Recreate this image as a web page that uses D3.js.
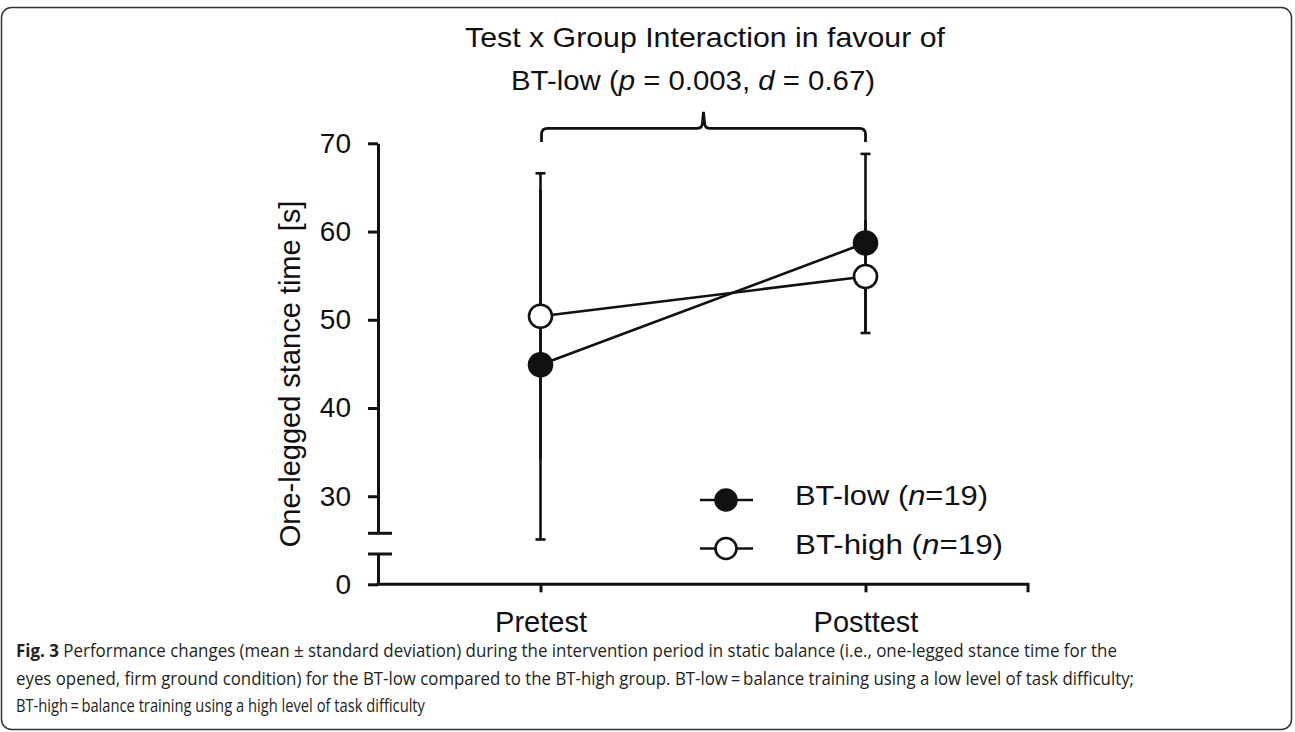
<!DOCTYPE html>
<html>
<head>
<meta charset="utf-8">
<script src="https://cdn.jsdelivr.net/npm/d3@7"></script>
<style>
  body { margin: 0; background: #fff; }
  svg { display: block; }
</style>
</head>
<body>
<svg id="chart" width="1295" height="732"></svg>
<script>

// data
const phases = ['Pretest', 'Posttest']
const groups = ['BT-low', 'BT-high']
const lowMean = [44.9, 58.7]
const lowSD = [19.8, 10.1]
const highMean = [50.4, 54.9]
const highSD = [16.2, 6.4]
// which side of the mean gets the cap (+1 up, -1 down)
const lowCap = [-1, 1]
const highCap = [1, -1]
const yTicks = [30, 40, 50, 60, 70]

const captionLines = [
    'Performance changes (mean \u00b1 standard deviation) during the intervention period in static balance (i.e., one-legged stance time for the',
    'eyes opened, firm ground condition) for the BT-low compared to the BT-high group. BT-low\u2009=\u2009balance training using a low level of task difficulty;',
    'BT-high\u2009=\u2009balance training using a high level of task difficulty'
]

const svg = d3.select('#chart')
const ink = '#111'
const font = '"Liberation Sans", Arial, sans-serif'

// frame
svg.append('rect')
    .attr('x', 1.5).attr('y', 7.5)
    .attr('width', 1290).attr('height', 722)
    .attr('rx', 10)
    .attr('fill', 'none')
    .attr('stroke', '#333')
    .attr('stroke-width', 1.5)

// scales
const x = d3.scalePoint().domain(phases).range([378, 1028]).padding(0.5)
const y = d3.scaleLinear().domain([25.8, 70]).range([533.3, 143.3])
const yLow = d3.scaleLinear().domain([0, 3.4]).range([584.3, 554])

const g = svg.append('g')

function styleAxis(sel) {
    sel.select('.domain').attr('stroke', ink).attr('stroke-width', 3)
    sel.selectAll('.tick line').attr('stroke', ink).attr('stroke-width', 3)
    sel.selectAll('.tick text')
        .attr('font-family', font).attr('font-size', 28).attr('fill', ink)
}

// y axis (upper part)
g.append('g')
    .attr('transform', 'translate(378,0)')
    .call(d3.axisLeft(y).tickValues(yTicks).tickFormat(d3.format('d'))
        .tickSize(10).tickSizeOuter(0).tickPadding(17))
    .call(styleAxis)

// y axis (lower part, just 0)
g.append('g')
    .attr('transform', 'translate(378,0)')
    .call(d3.axisLeft(yLow).tickValues([0]).tickFormat(d3.format('d'))
        .tickSize(10).tickSizeOuter(0).tickPadding(17))
    .call(styleAxis)

// break marks
g.selectAll('.brk')
    .data([y(25.8), yLow(3.4)])
    .join('line')
    .attr('x1', 368).attr('x2', 392)
    .attr('y1', d => d).attr('y2', d => d)
    .attr('stroke', ink).attr('stroke-width', 3)

// x axis
const xAxis = g.append('g')
    .attr('transform', `translate(0,${yLow(0)})`)
    .call(d3.axisBottom(x).tickSize(8).tickSizeOuter(0).tickPadding(19))
    .call(styleAxis)
xAxis.select('.domain').remove()
xAxis.selectAll('.tick text').attr('font-size', 29)
g.append('path')
    .attr('d', `M${x.range()[0] - 1.5},${yLow(0)}H${x.range()[1]}v8`)
    .attr('fill', 'none').attr('stroke', ink).attr('stroke-width', 3)

// y title
g.append('text')
    .attr('transform', 'translate(300,374) rotate(-90)')
    .attr('text-anchor', 'middle')
    .attr('font-family', font).attr('font-size', 29).attr('fill', ink)
    .text('One-legged stance time [s]')

// series
const series = [
    { name: groups[0], mean: lowMean, sd: lowSD, cap: lowCap, fill: ink },
    { name: groups[1], mean: highMean, sd: highSD, cap: highCap, fill: '#fff' }
]

const line = d3.line().x((d, i) => x(phases[i])).y(d => y(d))

// error bars
series.forEach(s => {
    phases.forEach((p, i) => {
        const lo = s.mean[i] - s.sd[i]
        const hi = s.mean[i] + s.sd[i]
        g.append('line')
            .attr('x1', x(p)).attr('x2', x(p))
            .attr('y1', y(lo)).attr('y2', y(hi))
            .attr('stroke', ink).attr('stroke-width', 2.6)
        const capV = s.cap[i] > 0 ? hi : lo
        g.append('line')
            .attr('x1', x(p) - 5).attr('x2', x(p) + 5)
            .attr('y1', y(capV)).attr('y2', y(capV))
            .attr('stroke', ink).attr('stroke-width', 2.6)
    })
})

// lines
series.forEach(s => {
    g.append('path')
        .attr('d', line(s.mean))
        .attr('fill', 'none').attr('stroke', ink).attr('stroke-width', 2.6)
})

// points
series.forEach(s => {
    g.selectAll(null)
        .data(s.mean)
        .join('circle')
        .attr('cx', (d, i) => x(phases[i]))
        .attr('cy', d => y(d))
        .attr('r', 11.5)
        .attr('fill', s.fill)
        .attr('stroke', ink).attr('stroke-width', 2.6)
})

// legend
const legend = g.append('g')
series.forEach((s, i) => {
    const ly = 500 + i * 48.5
    legend.append('line')
        .attr('x1', 700).attr('x2', 753)
        .attr('y1', ly).attr('y2', ly)
        .attr('stroke', ink).attr('stroke-width', 2.6)
    legend.append('circle')
        .attr('cx', 726).attr('cy', ly).attr('r', 10.5)
        .attr('fill', s.fill).attr('stroke', ink).attr('stroke-width', 2.6)
    const t = legend.append('text')
        .attr('x', 795).attr('y', ly + 5)
        .attr('font-family', font).attr('font-size', 28).attr('fill', ink)
        .attr('textLength', i === 0 ? 193 : 208)
        .attr('lengthAdjust', 'spacingAndGlyphs')
    t.append('tspan').text(s.name + ' (')
    t.append('tspan').attr('font-style', 'italic').text('n')
    t.append('tspan').text('=19)')
})

// bracket + annotation
const bx0 = x('Pretest') + 1, bx1 = x('Posttest')
const bm = (bx0 + bx1) / 2
const by = 128.3, bEnd = 142, bTop = 112
const bp = d3.path()
bp.moveTo(bx0, bEnd)
bp.lineTo(bx0, by + 6)
bp.quadraticCurveTo(bx0, by, bx0 + 6, by)
bp.lineTo(bm - 6, by)
bp.quadraticCurveTo(bm - 1, by, bm - 1, by - 6)
bp.lineTo(bm, bTop)
bp.lineTo(bm + 1, by - 6)
bp.quadraticCurveTo(bm + 1, by, bm + 6, by)
bp.lineTo(bx1 - 6, by)
bp.quadraticCurveTo(bx1, by, bx1, by + 6)
bp.lineTo(bx1, bEnd)
g.append('path')
    .attr('d', bp.toString())
    .attr('fill', 'none').attr('stroke', ink).attr('stroke-width', 2.8)

g.append('text')
    .attr('x', 465).attr('y', 47)
    .attr('font-family', font).attr('font-size', 28).attr('fill', ink)
    .attr('textLength', 480)
    .attr('lengthAdjust', 'spacingAndGlyphs')
    .text('Test x Group Interaction in favour of')
const t2 = g.append('text')
    .attr('x', 511).attr('y', 90)
    .attr('font-family', font).attr('font-size', 28).attr('fill', ink)
    .attr('textLength', 364)
    .attr('lengthAdjust', 'spacingAndGlyphs')
t2.append('tspan').text('BT-low (')
t2.append('tspan').attr('font-style', 'italic').text('p')
t2.append('tspan').text(' = 0.003, ')
t2.append('tspan').attr('font-style', 'italic').text('d')
t2.append('tspan').text(' = 0.67)')

// caption
const capFont = '"Open Sans", "Noto Sans", sans-serif'
const capWidths = [1101, 1118, 409]
captionLines.forEach((txt, i) => {
    const t = svg.append('text')
        .attr('x', 16).attr('y', 657 + i * 27.5)
        .attr('font-family', capFont).attr('font-size', 17.5).attr('fill', '#231f20')
        .attr('textLength', capWidths[i])
        .attr('lengthAdjust', 'spacingAndGlyphs')
    if (i === 0) {
        t.append('tspan').attr('font-weight', 'bold').text('Fig. 3')
        t.append('tspan').text(' ' + txt)
    } else {
        t.text(txt)
    }
})

</script>
</body>
</html>
